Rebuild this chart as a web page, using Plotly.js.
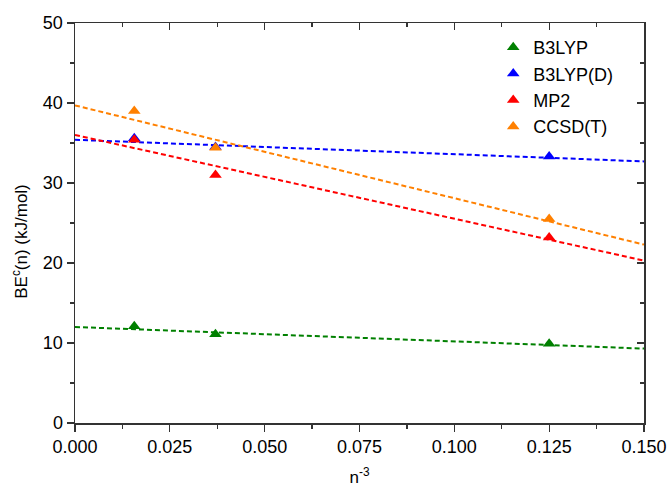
<!DOCTYPE html>
<html><head><meta charset="utf-8">
<script src="https://cdn.plot.ly/plotly-3.0.1.min.js"></script>
<style>body{margin:0;padding:0;background:#fff}#chart{width:672px;height:487px}</style>
</head><body><div id="chart"></div>
<script>
const xPoints = [0.015625, 0.037037, 0.125];
const seriesNames = ['B3LYP', 'B3LYP(D)', 'MP2', 'CCSD(T)'];
const seriesColors = ['#008000', '#0000ff', '#ff0000', '#ff8000'];
const b3lyp = [12.1, 11.1, 9.9];
const b3lypD = [35.6, 34.5, 33.3];
const mp2 = [35.4, 31.0, 23.2];
const ccsdt = [39.0, 34.4, 25.5];
const fitX = [0, 0.15];
const fitB3lyp = [12.0, 9.3];
const fitB3lypD = [35.4, 32.7];
const fitMp2 = [36.0, 20.3];
const fitCcsdt = [39.7, 22.3];
const xTicks = [0, 0.025, 0.05, 0.075, 0.1, 0.125, 0.15];
const yTicks = [0, 10, 20, 30, 40, 50];

const pts = [b3lyp, b3lypD, mp2, ccsdt];
const fits = [fitB3lyp, fitB3lypD, fitMp2, fitCcsdt];
const traces = [];
fits.forEach((f, i) => traces.push({x: fitX, y: f, mode: 'lines', showlegend: false,
  line: {color: seriesColors[i], width: 2, dash: '5px,3px'}, hoverinfo: 'skip'}));
pts.forEach((p, i) => traces.push({x: xPoints, y: p, mode: 'markers', name: seriesNames[i],
  marker: {symbol: 'triangle-up', size: 11, color: seriesColors[i]}}));
traces.push({x: [], y: [], xaxis: 'x2', yaxis: 'y2', showlegend: false});

const fam = 'Liberation Sans';
const axisFont = {family: fam, size: 18, color: '#000'};
const titleFont = {family: fam, size: 17, color: '#000'};
const layout = {
  width: 672, height: 487,
  margin: {l: 75, r: 28, t: 23, b: 64},
  paper_bgcolor: '#fff', plot_bgcolor: '#fff',
  font: axisFont,
  showlegend: true,
  legend: {x: 0.735, y: 0.985, xanchor: 'left', yanchor: 'top', bgcolor: 'rgba(0,0,0,0)',
    font: {family: fam, size: 18, color: '#000'}, traceorder: 'normal'},
  annotations: [{text: 'BE<sup>c</sup>(n) (kJ/mol)', textangle: -90, xref: 'paper', yref: 'paper',
    x: -0.097, y: 0.455, xanchor: 'center', yanchor: 'middle', showarrow: false, font: titleFont}],
  xaxis: {range: [0, 0.15], tickvals: xTicks, tickformat: '.3f', ticks: 'outside', ticklen: 7,
    tickwidth: 1.3, tickcolor: '#333', showline: true, linecolor: '#333', linewidth: 1.5, mirror: true,
    showgrid: false, zeroline: false, tickfont: axisFont,
    minor: {dtick: 0.0125, tick0: 0, ticks: 'outside', ticklen: 4, tickcolor: '#333', tickwidth: 1.3, showgrid: false},
    title: {text: 'n<sup>-3</sup>', font: titleFont, standoff: 16}},
  yaxis: {range: [0, 50], tickvals: yTicks, ticks: 'outside', ticklen: 7,
    tickwidth: 1.3, tickcolor: '#333', showline: true, linecolor: '#333', linewidth: 1.5, mirror: true,
    showgrid: false, zeroline: false, tickfont: axisFont,
    minor: {dtick: 5, tick0: 0, ticks: 'outside', ticklen: 4, tickcolor: '#333', tickwidth: 1.3, showgrid: false}},
  xaxis2: {overlaying: 'x', side: 'top', range: [0, 0.15], tickvals: xTicks, ticks: 'inside', ticklen: 7,
    tickwidth: 1.3, tickcolor: '#333', showticklabels: false, showgrid: false, zeroline: false, showline: false,
    minor: {dtick: 0.0125, tick0: 0, ticks: 'inside', ticklen: 4, tickcolor: '#333', tickwidth: 1.3, showgrid: false}},
  yaxis2: {overlaying: 'y', side: 'right', range: [0, 50], tickvals: yTicks, ticks: 'inside', ticklen: 7,
    tickwidth: 1.3, tickcolor: '#333', showticklabels: false, showgrid: false, zeroline: false, showline: false,
    minor: {dtick: 5, tick0: 0, ticks: 'inside', ticklen: 4, tickcolor: '#333', tickwidth: 1.3, showgrid: false}}
};
Plotly.newPlot('chart', traces, layout, {displayModeBar: false, staticPlot: true});
</script></body></html>
